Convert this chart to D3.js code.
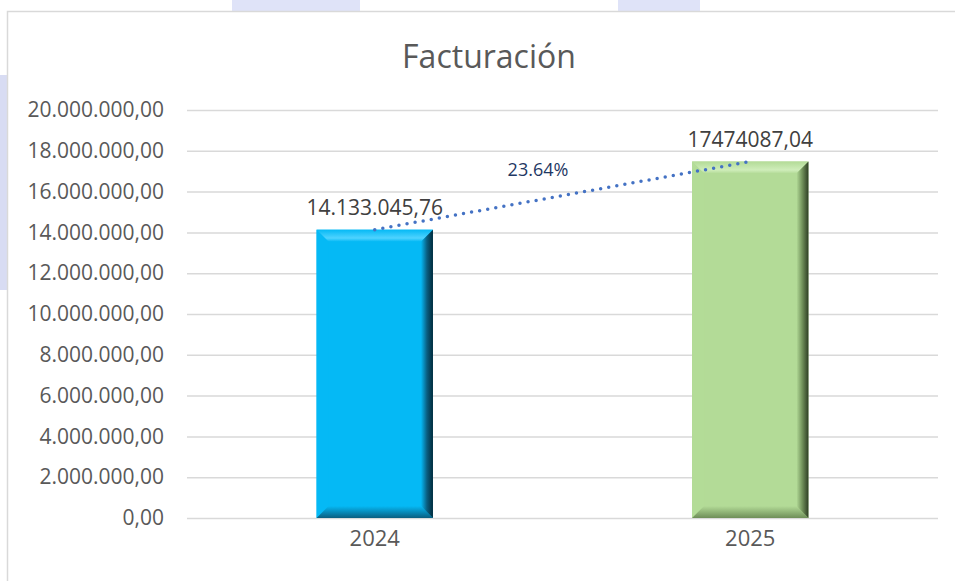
<!DOCTYPE html>
<html lang="es">
<head>
<meta charset="UTF-8" />
<script src="https://d3js.org/d3.v7.min.js"></script>
<title>Facturación</title>
<style>
  body { margin:0; background:#fff; }
  text { font-family: "Open Sans", "Liberation Sans", sans-serif; }
</style>
</head>
<body>
<script>
// data
var years = ["2024", "2025"];
var values = [14133045.76, 17474087.04];
var valueLabels = ["14.133.045,76", "17474087,04"];
var yTicks = [0, 2000000, 4000000, 6000000, 8000000, 10000000, 12000000, 14000000, 16000000, 18000000, 20000000];
var growthLabel = "23.64%";
var barColors = [
  {base:"#05B9F5", light:"#4FD3FF", dark:"#0A5E80", shadow:"#012A3A"},
  {base:"#B3DB97", light:"#CFEDBA", dark:"#6E8E58", shadow:"#2E3E24"}
];

var W = 955, H = 581;
var margin = {top:110, right:17, bottom:63, left:187};
var width = W - margin.left - margin.right;
var height = H - margin.top - margin.bottom;

var svg = d3.select("body").append("svg").attr("width", W).attr("height", H);

// faint background watermark
svg.append("rect").attr("x",0).attr("y",75).attr("width",8).attr("height",215).attr("fill","#d8dcf3");
svg.append("rect").attr("x",232).attr("y",0).attr("width",128).attr("height",11).attr("fill","#dfe3f8");
svg.append("rect").attr("x",618).attr("y",0).attr("width",82).attr("height",11).attr("fill","#dfe3f8");

// chart area border
svg.append("rect").attr("x",7.5).attr("y",11.5).attr("width",970).attr("height",600)
  .attr("fill","#fff").attr("stroke","#d9d9d9").attr("stroke-width",1.5);

svg.append("text").attr("x",489).attr("y",68).attr("text-anchor","middle")
  .attr("font-size",32).attr("fill","#595959").text("Facturación");

var g = svg.append("g").attr("transform","translate(" + margin.left + "," + margin.top + ")");

var x = d3.scaleBand().domain(years).range([0, width]).paddingInner(0.69).paddingOuter(0.345);
var y = d3.scaleLinear().domain([0, 20000000]).range([height, 0]);

var fmt = function(v) {
  return d3.format(",.2f")(v).replace(/,/g, "#").replace(".", ",").replace(/#/g, ".");
};

// gridlines + y axis
var yAxis = g.append("g").call(d3.axisLeft(y).tickValues(yTicks).tickFormat(fmt).tickSize(-width).tickPadding(23));
yAxis.select(".domain").remove();
yAxis.selectAll(".tick line").attr("stroke","#d9d9d9").attr("stroke-width",1.5);
yAxis.selectAll(".tick text").attr("font-size",21).attr("fill","#595959")
  .attr("font-family","Open Sans, sans-serif");

// x axis
var xAxis = g.append("g").attr("transform","translate(0," + height + ")").call(d3.axisBottom(x).tickSize(0).tickPadding(12));
xAxis.select(".domain").remove();
xAxis.selectAll(".tick text").attr("font-size",22).attr("fill","#595959")
  .attr("font-family","Open Sans, sans-serif");

// gradients for bevel
var defs = svg.append("defs");
barColors.forEach(function(c, i) {
  var gr = defs.append("linearGradient").attr("id","rside"+i).attr("x1","0").attr("x2","1");
  gr.append("stop").attr("offset","0").attr("stop-color",c.base);
  gr.append("stop").attr("offset","0.5").attr("stop-color",c.dark);
  gr.append("stop").attr("offset","1").attr("stop-color",c.shadow);
  var gb = defs.append("linearGradient").attr("id","bside"+i).attr("x1","0").attr("y1","0").attr("x2","0").attr("y2","1");
  gb.append("stop").attr("offset","0").attr("stop-color",c.base);
  gb.append("stop").attr("offset","1").attr("stop-color",c.dark);
  var gt = defs.append("linearGradient").attr("id","tside"+i).attr("x1","0").attr("y1","0").attr("x2","0").attr("y2","1");
  gt.append("stop").attr("offset","0").attr("stop-color",c.base);
  gt.append("stop").attr("offset","0.7").attr("stop-color",c.light);
  gt.append("stop").attr("offset","1").attr("stop-color",c.base);
});

var bev = 12;
var bars = g.selectAll(".bar").data(years).enter().append("g").attr("class","bar");
bars.each(function(d, i) {
  var b = d3.select(this);
  var x0 = x(d), x1 = x(d) + x.bandwidth();
  var y0 = y(values[i]), y1 = y(0);
  var c = barColors[i];
  b.append("rect").attr("x",x0).attr("y",y0).attr("width",x1-x0).attr("height",y1-y0).attr("fill",c.base);
  // top bevel
  b.append("path").attr("d","M"+x0+","+y0+"L"+x1+","+y0+"L"+(x1-bev)+","+(y0+bev)+"L"+(x0+bev)+","+(y0+bev)+"Z")
    .attr("fill","url(#tside"+i+")");
  // left bevel
  b.append("path").attr("d","M"+x0+","+y0+"L"+(x0+bev)+","+(y0+bev)+"L"+(x0+bev)+","+(y1-bev)+"L"+x0+","+y1+"Z")
    .attr("fill",c.base).attr("opacity",0.9);
  // bottom bevel
  b.append("path").attr("d","M"+x0+","+y1+"L"+(x0+bev)+","+(y1-bev)+"L"+(x1-bev)+","+(y1-bev)+"L"+x1+","+y1+"Z")
    .attr("fill","url(#bside"+i+")");
  // right bevel
  b.append("path").attr("d","M"+x1+","+y0+"L"+(x1-bev)+","+(y0+bev)+"L"+(x1-bev)+","+(y1-bev)+"L"+x1+","+y1+"Z")
    .attr("fill","url(#rside"+i+")");
  b.append("text").attr("x",(x0+x1)/2).attr("y",y0-15).attr("text-anchor","middle")
    .attr("font-size",21).attr("fill","#404040").text(valueLabels[i]);
});

// trend line
var line = d3.line().x(function(d, i){ return x(years[i]) + x.bandwidth()/2; }).y(function(d){ return y(d); });
g.append("path").datum(values).attr("d", line).attr("fill","none")
  .attr("stroke","#4472C4").attr("stroke-width",3.5).attr("stroke-linecap","round")
  .attr("stroke-dasharray","0 8.2");

g.append("text").attr("x", 538 - margin.left).attr("y", 176 - margin.top).attr("text-anchor","middle")
  .attr("font-size",18).attr("fill","#1F3864").text(growthLabel);
</script>
</body>
</html>
